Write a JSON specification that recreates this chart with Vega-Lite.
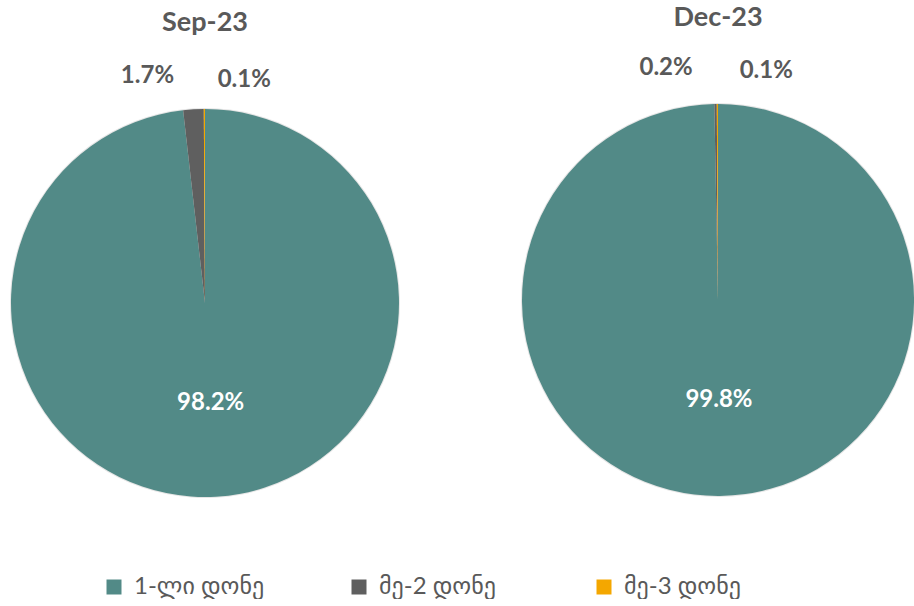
{
  "$schema": "https://vega.github.io/schema/vega-lite/v6.json",
  "background": "white",
  "padding": {"top": 4, "left": 0, "right": 0, "bottom": 0},
  "spacing": 109,
  "config": {
    "view": {"stroke": null},
    "title": {"font": "Lato", "fontSize": 27, "fontWeight": "bold", "color": "#595959", "anchor": "middle"},
    "text": {"font": "Lato", "fontSize": 24, "fontWeight": "bold"}
  },
  "datasets": {
    "shares": [
      {"period": "Sep-23", "level": "1-ლი დონე", "rank": 1, "share": 0.982},
      {"period": "Sep-23", "level": "მე-2 დონე", "rank": 2, "share": 0.017},
      {"period": "Sep-23", "level": "მე-3 დონე", "rank": 3, "share": 0.001},
      {"period": "Dec-23", "level": "1-ლი დონე", "rank": 1, "share": 0.998},
      {"period": "Dec-23", "level": "მე-2 დონე", "rank": 2, "share": 0.002},
      {"period": "Dec-23", "level": "მე-3 დონე", "rank": 3, "share": 0.001}
    ]
  },
  "data": {"name": "shares"},
  "resolve": {"scale": {"theta": "independent"}},
  "hconcat": [
    {
      "width": 410,
      "height": 512,
      "title": {"text": "Sep-23", "offset": 10},
      "transform": [{"filter": "datum.period === 'Sep-23'"}],
      "encoding": {
        "theta": {"field": "share", "type": "quantitative", "stack": true},
        "order": {"field": "rank", "type": "quantitative"}
      },
      "layer": [
        {
          "mark": {"type": "arc", "outerRadius": 195, "fill": "#000000", "opacity": 0.1, "dx": 2, "dy": 2},
          "encoding": {"detail": {"field": "level"}}
        },
        {
          "mark": {"type": "arc", "outerRadius": 194},
          "encoding": {
            "color": {
              "field": "level", "type": "nominal",
              "scale": {"domain": ["1-ლი დონე", "მე-2 დონე", "მე-3 დონე"], "range": ["#528A87", "#5F5F5F", "#F4A700"]},
              "legend": {
                "orient": "none", "legendX": 102, "legendY": 528,
                "direction": "horizontal", "title": null, "gridAlign": "all",
                "symbolType": "square", "symbolSize": 225, "symbolStrokeWidth": 0,
                "labelFont": "Lato, DejaVu Sans", "labelFontSize": 24, "labelColor": "#595959",
                "labelOffset": 8, "columnPadding": 82
              }
            }
          }
        },
        {
          "mark": {"type": "text", "radius": 100, "fill": "white"},
          "encoding": {
            "detail": {"field": "level"},
            "text": {"condition": {"test": "datum.rank === 1", "field": "share", "format": ".1%"}, "value": ""}
          }
        },
        {
          "mark": {"type": "text", "radius": 227, "dx": -44, "fill": "#595959"},
          "encoding": {
            "detail": {"field": "level"},
            "text": {"condition": {"test": "datum.rank === 2", "field": "share", "format": ".1%"}, "value": ""}
          }
        },
        {
          "mark": {"type": "text", "radius": 223, "dx": 40, "fill": "#595959"},
          "encoding": {
            "detail": {"field": "level"},
            "text": {"condition": {"test": "datum.rank === 3", "field": "share", "format": ".1%"}, "value": ""}
          }
        }
      ]
    },
    {
      "width": 398,
      "height": 506,
      "title": {"text": "Dec-23", "offset": 15},
      "transform": [{"filter": "datum.period === 'Dec-23'"}],
      "encoding": {
        "theta": {"field": "share", "type": "quantitative", "stack": true},
        "order": {"field": "rank", "type": "quantitative"}
      },
      "layer": [
        {
          "mark": {"type": "arc", "outerRadius": 197, "fill": "#000000", "opacity": 0.1, "dx": 2, "dy": 2},
          "encoding": {"detail": {"field": "level"}}
        },
        {
          "mark": {"type": "arc", "outerRadius": 196},
          "encoding": {
            "color": {"field": "level", "type": "nominal"}
          }
        },
        {
          "mark": {"type": "text", "radius": 100, "fill": "white"},
          "encoding": {
            "detail": {"field": "level"},
            "text": {"condition": {"test": "datum.rank === 1", "field": "share", "format": ".1%"}, "value": ""}
          }
        },
        {
          "mark": {"type": "text", "radius": 232, "dx": -49, "fill": "#595959"},
          "encoding": {
            "detail": {"field": "level"},
            "text": {"condition": {"test": "datum.rank === 2", "field": "share", "format": ".1%"}, "value": ""}
          }
        },
        {
          "mark": {"type": "text", "radius": 229, "dx": 49, "fill": "#595959"},
          "encoding": {
            "detail": {"field": "level"},
            "text": {"condition": {"test": "datum.rank === 3", "field": "share", "format": ".1%"}, "value": ""}
          }
        }
      ]
    }
  ]
}
